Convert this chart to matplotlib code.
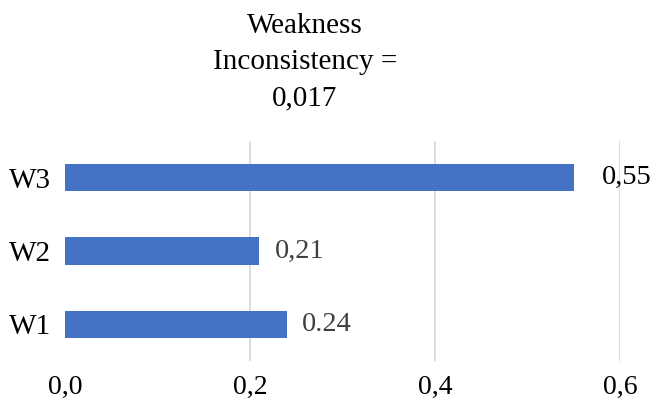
import matplotlib.pyplot as plt

categories = ["W1", "W2", "W3"]
weights = [0.24, 0.21, 0.55]
value_labels = ["0.24", "0,21", "0,55"]
x_ticks = [0.0, 0.2, 0.4, 0.6]
x_tick_labels = ["0,0", "0,2", "0,4", "0,6"]
title = "Weakness\nInconsistency =\n0,017"

plt.rcParams['font.family'] = ['Liberation Serif', 'DejaVu Serif']

fig = plt.figure(figsize=(6.54, 4.09), dpi=100)
ax = fig.add_axes([65 / 654, 1 - 361 / 409, 555 / 654, 220 / 409])

bar_color = '#4472C4'
ax.barh(range(len(categories)), weights, height=0.37, color=bar_color, zorder=3)

# label colours / offsets (points) per bar
label_colors = ['#404040', '#404040', 'black']
label_offsets = [11, 11, 20]
for i, (v, txt) in enumerate(zip(weights, value_labels)):
    ax.annotate(txt, xy=(v, i), xytext=(label_offsets[i], 0), textcoords='offset points',
                va='center', ha='left', fontsize=20.5, color=label_colors[i],
                annotation_clip=False)

ax.set_xlim(0, 0.6)
ax.set_ylim(-0.5, 2.5)
ax.set_yticks(range(len(categories)))
ax.set_yticklabels(categories, fontsize=21)
ax.set_xticks(x_ticks)
ax.set_xticklabels(x_tick_labels, fontsize=20)
ax.tick_params(axis='both', length=0)
ax.tick_params(axis='x', pad=10)
ax.tick_params(axis='y', pad=10)

for x in x_ticks[1:]:
    ax.axvline(x, color='#D9D9D9', linewidth=1.3, zorder=1)

for s in ax.spines.values():
    s.set_visible(False)

fig.text(305 / 654, 1 - 13 / 409, title, ha='center', va='top', fontsize=21,
         linespacing=1.5)

fig.savefig('out.png', dpi=100)
